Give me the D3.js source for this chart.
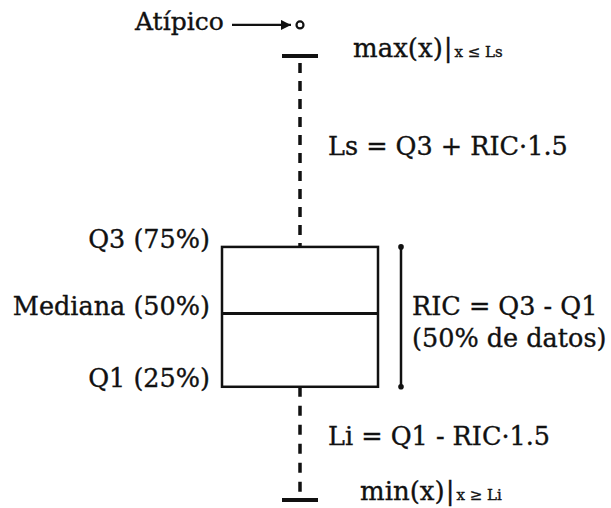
<!DOCTYPE html>
<html>
<head>
<meta charset="utf-8">
<script src="https://cdn.jsdelivr.net/npm/d3@7"></script>
<style>
  body { margin: 0; background: #fff; }
  svg text { font-family: "DejaVu Serif", serif; fill: #111; stroke: #111; stroke-width: 0.35; }
</style>
</head>
<body>
<svg id="chart"></svg>
<script>
// five-number summary + one outlier
const statNames = ["min", "q1", "median", "q3", "max", "outlier"];
const statValues = [0, 5.1, 8.4, 11.4, 20, 21.4];

const leftLabels = ["Q3 (75%)", "Mediana (50%)", "Q1 (25%)"];
const leftStats = ["q3", "median", "q1"];
const ricLines = ["RIC = Q3 - Q1", "(50% de datos)"];
const upperFormula = "Ls = Q3 + RIC·1.5";
const lowerFormula = "Li = Q1 - RIC·1.5";
const outlierLabel = "Atípico";

const width = 611, height = 508;
const stat = {};
statNames.forEach((n, i) => stat[n] = statValues[i]);

const svg = d3.select("#chart").attr("width", width).attr("height", height);

const y = d3.scaleLinear().domain([0, 20]).range([500, 56]);
const cx = 300;       // box centre
const boxW = 156;
const capW = 36;

// whiskers (dashed)
svg.append("line")
    .attr("x1", cx).attr("x2", cx)
    .attr("y1", y(stat.max) + 7).attr("y2", y(stat.q3))
    .attr("stroke", "#111").attr("stroke-width", 3.5)
    .attr("stroke-dasharray", "10,8");
svg.append("line")
    .attr("x1", cx).attr("x2", cx)
    .attr("y1", y(stat.q1)).attr("y2", y(stat.min) - 8)
    .attr("stroke", "#111").attr("stroke-width", 3.5)
    .attr("stroke-dasharray", "10,9");

// caps
[stat.max, stat.min].forEach(v => {
    svg.append("line")
        .attr("x1", cx - capW / 2).attr("x2", cx + capW / 2)
        .attr("y1", y(v)).attr("y2", y(v))
        .attr("stroke", "#111").attr("stroke-width", 4);
});

// box
svg.append("rect")
    .attr("x", cx - boxW / 2).attr("width", boxW)
    .attr("y", y(stat.q3)).attr("height", y(stat.q1) - y(stat.q3))
    .attr("fill", "none").attr("stroke", "#111").attr("stroke-width", 2.5);
svg.append("line")
    .attr("x1", cx - boxW / 2).attr("x2", cx + boxW / 2)
    .attr("y1", y(stat.median)).attr("y2", y(stat.median))
    .attr("stroke", "#111").attr("stroke-width", 3.2);

// outlier
svg.append("circle")
    .attr("cx", cx).attr("cy", y(stat.outlier)).attr("r", 3.5)
    .attr("fill", "none").attr("stroke", "#111").attr("stroke-width", 2.2);

// arrow to outlier
svg.append("defs").append("marker")
    .attr("id", "arr").attr("viewBox", "0 0 10 10")
    .attr("refX", 10).attr("refY", 5)
    .attr("markerWidth", 11).attr("markerHeight", 10)
    .attr("markerUnits", "userSpaceOnUse")
    .attr("orient", "auto")
    .append("path").attr("d", "M0,0L10,5L0,10Z").attr("fill", "#111");
svg.append("line")
    .attr("x1", 232).attr("x2", 291)
    .attr("y1", y(stat.outlier)).attr("y2", y(stat.outlier))
    .attr("stroke", "#111").attr("stroke-width", 2.2)
    .attr("marker-end", "url(#arr)");
svg.append("text")
    .attr("x", 135).attr("y", y(stat.outlier) + 5)
    .attr("font-size", 25)
    .text(outlierLabel);

// IQR bracket
const bx = 401;
svg.append("line")
    .attr("x1", bx).attr("x2", bx)
    .attr("y1", y(stat.q3)).attr("y2", y(stat.q1))
    .attr("stroke", "#111").attr("stroke-width", 2.5);
[stat.q3, stat.q1].forEach(v => {
    svg.append("circle").attr("cx", bx).attr("cy", y(v)).attr("r", 2.8).attr("fill", "#111");
});

// left quartile labels
const leftOffsets = [1, 1, 0];
svg.selectAll("text.left")
    .data(leftLabels)
    .enter().append("text")
    .attr("class", "left")
    .attr("x", 210)
    .attr("y", (d, i) => y(stat[leftStats[i]]) + leftOffsets[i])
    .attr("text-anchor", "end")
    .attr("font-size", 25.5)
    .text(d => d);

// RIC labels
svg.selectAll("text.ric")
    .data(ricLines)
    .enter().append("text")
    .attr("class", "ric")
    .attr("x", 412)
    .attr("y", (d, i) => y(stat.median) + 1 + i * 32)
    .attr("font-size", 25.5)
    .text(d => d);

// fence formulas
svg.append("text").attr("x", 328).attr("y", 155).attr("font-size", 25.5).text(upperFormula);
svg.append("text").attr("x", 328).attr("y", 445).attr("font-size", 25.5).text(lowerFormula);

// max / min annotations
function condLabel(xPos, yPos, main, cond) {
    const t = svg.append("text").attr("x", xPos).attr("y", yPos).attr("font-size", 26);
    t.append("tspan").text(main);
    t.append("tspan").text("|").attr("font-size", 26).attr("dx", 1);
    t.append("tspan").text(cond).attr("font-size", 15).attr("dx", 2);
}
condLabel(353, 57, "max(x)", "x ≤ Ls");
condLabel(360, 500, "min(x)", "x ≥ Li");
</script>
</body>
</html>
